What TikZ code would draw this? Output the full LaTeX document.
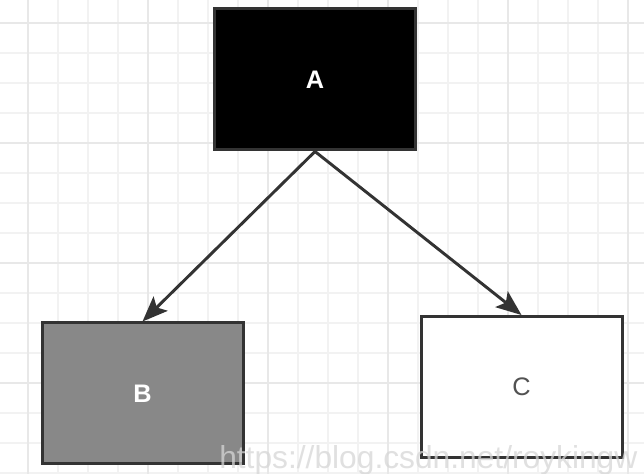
\documentclass[tikz,border=0pt]{standalone}
\usepackage{fontspec}
\setmainfont{Liberation Sans}
\usetikzlibrary{arrows.meta}
\definecolor{gridminor}{HTML}{F2F2F2}
\definecolor{gridmajor}{HTML}{E8E8E8}
\definecolor{edge}{HTML}{333333}
\definecolor{bgray}{HTML}{888888}
\definecolor{wmark}{HTML}{D6D6D6}
\tikzset{
  box/.style={draw=edge, line width=2.25pt, minimum width=150.75pt, minimum height=105.75pt, inner sep=0pt, font=\fontsize{19}{22}\selectfont},
  arr/.style={draw=edge, line width=2.2pt, -{Stealth[length=19pt,width=15pt,inset=4pt]}},
}
\begin{document}
\begin{tikzpicture}[x=0.75pt,y=-0.75pt]
\useasboundingbox (0,0) rectangle (644,474);
\fill[white] (0,0) rectangle (644,474);
\begin{scope}
\clip (0,0) rectangle (644,474);
\foreach \i in {-2,...,21} {
  \draw[gridminor, line width=0.8pt] (28+30*\i,0) -- (28+30*\i,474);
  \draw[gridminor, line width=0.8pt] (0,23+30*\i) -- (644,23+30*\i);
}
\foreach \i in {-1,...,5} {
  \draw[gridmajor, line width=0.8pt] (28+120*\i,0) -- (28+120*\i,474);
  \draw[gridmajor, line width=0.8pt] (0,23+120*\i) -- (644,23+120*\i);
}
\end{scope}
\node[box, fill=black, text=white, font=\fontsize{19}{22}\selectfont\bfseries] (a) at (315,79.5) {A};
\node[box, fill=bgray, text=white, font=\fontsize{19}{22}\selectfont\bfseries] (b) at (142.5,393.5) {B};
\node[box, fill=white, text=edge!85] (c) at (521.5,387) {C};
\draw[arr] (a.south) -- (b.north);
\draw[arr] (a.south) -- (c.north);
\node[text=wmark, opacity=0.75, anchor=base west, inner sep=0pt, font=\fontsize{23.8}{28}\selectfont] (w) at (219,469) {https://blog.csdn.net/roykingw};
\end{tikzpicture}
\end{document}
